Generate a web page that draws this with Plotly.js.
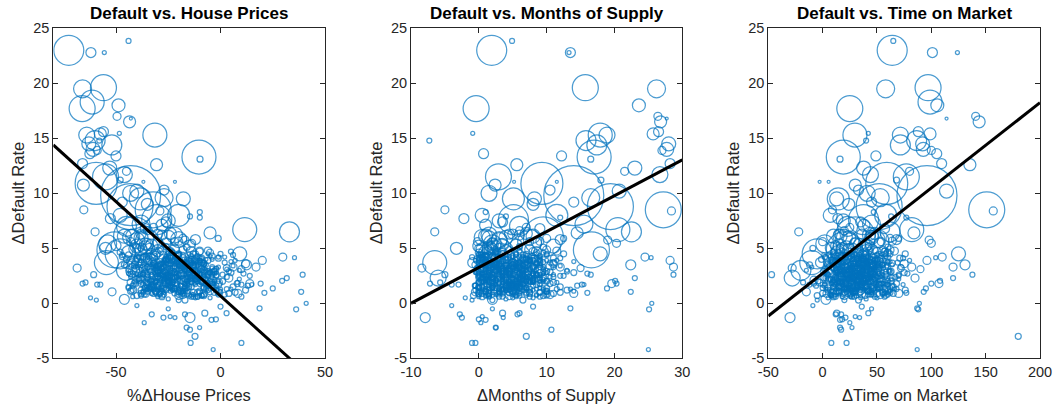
<!DOCTYPE html>
<html><head><meta charset="utf-8">
<script src="https://cdn.plot.ly/plotly-3.0.1.min.js"></script>
<style>html,body{margin:0;padding:0;background:#fff}#chart{width:1057px;height:408px}</style>
</head><body><div id="chart"></div>
<script>
// ---- prominent high-default observations (y >= ~10) ----
const highRate = [23.0,23.85,22.8,22.8,19.5,19.6,18.3,17.7,18.0,17.0,
  16.5,16.8,15.3,15.45,14.8,13.3,13.1,15.3,14.8,15.4,
  14.0,14.4,12.6,12.7,10.9,9.8,11.5,11.05,11.05,10.75,
  12.3,13.4,13.6,11.7,10.2,14.5,15.6,13.9];
const highSize = [30,5,10,4,18,26,24,26,13,8,
  12,3,24,4,5,34,6,16,20,12,
  14,20,12,10,42,60,26,3,3,12,
  14,10,10,16,14,14,10,8];
const highHP = [-72.6,-44,-62,-55.6,-66,-56,-61.4,-66.2,-48.8,-49.5,
  -43.5,-42.9,-31.4,-48.4,-58,-10.3,-9.8,-64,-60,-57.5,
  -61,-52,-30.6,-66,-59.5,-43,-55,-36.9,-21.8,-65.6,
  -53,-50,-62.5,-46,-40,-63,-56,-59];
const highMS = [1.9,4.9,13.5,13.3,26.2,15.7,33,-0.4,23.6,26.4,
  26.8,27.7,17.9,-0.9,-7.3,17.0,16.5,18.9,15.8,25.7,
  27.7,17.4,5.6,28.2,9.3,14.0,2.9,5.2,11.5,2.4,
  23,12.2,0.7,26.7,20.7,28.0,26.5,27];
const highTOM = [64,65,101,124,58,97,98.8,25,105.5,140.8,
  144,114,29.7,42,40,19,16,71.5,86.5,98.8,
  92.6,71.5,135.5,109.5,59,96,77,-2.8,5.5,30,
  37.7,49,105,44,114,92,88,100];

// ---- mid-range observations ----
const midRate = [9.5,10.0,9.5,8.8,8.5,8.4,7.6,7.7,6.05,6.7,
  6.5,4.5,4.2,4.15,8.5,6.5,3.2,4.85,5.0,8.3,
  7.8,7.9,5.75,5.45,5.9,6.4,7.5,9.0,8.0,7.0,
  6.8,9.2,10.3,7.2,5.4,5.2,8.0,9.6,6.2,5.6,
  11.2,12.0];
const midSize = [22,16,14,46,36,8,30,10,40,24,
  20,14,8,4,8,8,8,36,12,5,
  5,5,8,8,6,12,14,12,14,20,
  10,10,10,18,18,14,22,18,16,24,
  6,8];
const midHP = [-38.4,-43,-17.8,-43.3,-32.2,-29,-30.5,-52.7,-41.6,11.6,
  33,9.2,29.8,35.4,-65.4,-60,-68.6,-50.5,-55,-9.9,
  -9.9,-14.6,-17,-13.8,-1.1,-5,-25,-35,-48,-45,
  -36,-47,-27,-38,-54,-40,-20,-27,-22,-35,
  -48,-45];
const midMS = [5.1,1.5,8.2,19.4,27.2,28.4,5.1,-2.2,9.5,20.5,
  22.5,17.9,24.5,25.4,-5,-6.5,-8.4,16.6,-3.3,1,
  12,4,19,20.3,12.5,14.5,3.0,8,0.5,6,
  9,14,10.5,15.5,2.0,11,11.5,16.5,1.5,7.5,
  18,21.5];
const midTOM = [14.4,41,12.9,52,151,157,37.6,14,30,82,
  62,125,110,104,9,-22,-28,20,8,47,
  77,63,98,100,70,84,19,24,7,23,
  57,45,33,45,2,16,58,53,44,50,
  68,80];

// ---- negative-change observations ----
const lowRate = [-1.76,-1.0,-1.3,-1.2,-1.3,-1.0,-1.3,-2.2,-2.4,-3.0,
  -3.6,-4.2,-3.6,-0.9,-1.5,-1.45,-0.9,-0.45,-0.55,0.0,
  -0.3,-0.5,-2.2,-0.2];
const lowSize = [4,5,5,4,4,5,10,5,5,6,
  5,4,5,6,5,5,5,5,5,4,
  5,4,4,4];
const lowHP = [-36.5,-32.9,-27.3,-24.1,-21.8,-17,-14.6,-16.2,-14.6,-12.2,
  -14.3,-3.5,10,-7.5,-4.3,-2.2,2.9,18.7,36.2,41,
  0,-25,-10,-40];
const lowMS = [0.3,-2.8,-2.5,0.5,3.6,5.7,-7.9,2.5,10.7,7,
  -1,25,-0.5,3.5,1.0,0.0,6,13.5,25.1,25.5,
  8,2,2.5,-4];
const lowTOM = [25,12,21,30,34,17,-30,16,17,180,
  8,87,22,13,16,18,42,87,88,89,
  36,45,27,-9];

// ---- outer-edge observations (right / left of the main cloud) ----
const edgeRate = [1.05,2.6,2.3,2.05,1.35,1.8,0.95,1.8,3.5,3.3,
  0.9,3.9,1.7,2.8,
  1.8,1.9,2.6,1.7,1.7,0.5,0.3,1.05,0.36,3.7,
  4.5,3.0,2.3];
const edgeSize = [5,5,5,5,5,5,5,8,10,8,
  8,8,5,6,
  5,5,6,5,5,4,4,8,10,24,
  30,20,16];
const edgeHP = [38.6,39.3,31.7,29.5,25,19.2,21,14,12.4,17,
  8.4,20,10,5,
  -66,-64.6,-60.7,-59,-57.5,-62.2,-59.4,-51.9,-46,-54.6,
  -48,-45,-7];
const edgeMS = [22.4,28.7,23,20.1,18.9,20.3,16,19.6,22.4,28.7,
  14,28.2,15.2,14,
  -7.2,-5.7,-5,-4,-3,-2,-1,-0.5,2,-6.5,
  3,1,-6];
const edgeTOM = [93,137.8,120,108,95,100,77,107,131,120,
  70,96,60,75,
  -8,-18,-47,-12,0,5,-5,-15,3,-10,
  -5,-20,-28];

// ---- rim of the main cloud ----
const rimRate = [0.8,1.5,2.2,2.9,3.6,1.1,1.8,2.5,3.2,3.9,
  0.6,1.3,2.0,2.7,3.4,4.1,1.6,2.3,3.0,3.7,
  1.0,1.7,2.4,3.1,3.8,4.5,1.2,1.9,2.6,3.3,
  5.5,6.0,6.6,7.1,5.8,6.3,6.9,5.2,6.1,7.4,
  0.7,1.4,2.1,2.8,3.5,4.2,1.9,2.6,3.3,4.0,
  0.9,1.6,2.3,3.0,3.7,4.4,5.0,5.6,2.0,2.8];
const rimSize = [5,6,4,5,8,4,6,5,7,4,
  5,4,6,5,4,6,5,8,4,5,
  6,4,5,7,4,5,6,4,5,8,
  10,14,8,12,16,10,8,12,14,10,
  6,5,8,4,6,5,7,5,4,6,
  8,5,6,4,10,5,6,8,5,4];
const rimHP = [2,6,9,4,12,0,8,14,3,7,
  10,5,1,11,6,-1,13,4,9,2,
  7,15,3,10,5,0,12,8,1,6,
  -30,-25,-35,-28,-20,-38,-32,-15,-42,-26,
  -40,-44,-38,-42,-46,-39,-43,-37,-41,-45,
  -36,-42,-39,-44,-40,-47,-38,-43,-41,-37];
const rimMS = [10,12,9.5,13,11,14,10.5,12.5,15,11.5,
  9,13.5,10,16,12,11,14.5,9.5,13,10.5,
  12,15.5,11,9,14,10,13,11.5,16.5,12,
  2,4,6,1,3,5,7,0,8,3.5,
  -0.8,0,0.5,-0.5,1,-1,0.2,0.8,-0.3,0.4,
  1.2,-0.6,0.6,0,-0.9,0.3,1.5,-0.2,0.7,-0.4];
const rimTOM = [60,65,70,58,75,62,68,55,72,80,
  57,66,63,78,59,71,64,85,61,69,
  56,74,67,90,62,58,76,60,70,82,
  30,45,20,38,50,15,25,42,10,35,
  -5,0,-8,3,-12,2,-3,5,-10,-1,
  4,-6,1,-15,-2,6,-9,0,-4,2];

// ---- central cloud ----
const coreRate = [
  0.3,0.5,0.6,0.8,0.9,1.0,1.1,0.4,0.7,1.2,0.5,0.9,1.1,0.6,0.8,1.0,0.3,0.7,1.2,0.9,0.6,1.1,
  1.3,1.5,1.7,1.9,1.4,1.6,1.8,2.0,1.25,1.45,1.65,1.85,1.35,1.55,1.75,1.95,1.3,1.6,1.9,1.5,1.7,1.4,1.8,2.0,
  2.1,2.3,2.5,2.7,2.2,2.4,2.6,2.8,2.05,2.35,2.55,2.75,2.15,2.45,2.65,2.25,2.5,2.7,2.1,2.4,2.6,2.3,2.2,2.55,2.45,2.75,
  2.9,3.1,3.3,3.5,3.0,3.2,3.4,3.6,2.85,3.15,3.35,3.55,2.95,3.25,3.45,3.05,3.3,3.5,2.9,3.2,3.4,3.1,3.0,3.35,3.25,3.55,
  3.7,3.9,4.1,4.3,3.8,4.0,4.2,4.4,3.65,3.95,4.15,4.35,3.75,4.05,4.25,3.85,4.1,4.3,3.7,4.0,4.2,3.9,4.4,3.8,
  4.5,4.7,4.9,5.1,4.6,4.8,5.0,4.45,4.75,4.95,5.15,4.55,4.85,5.05,4.65,4.9,4.5,4.8,5.0,4.7,
  5.3,5.5,5.7,5.9,6.1,6.3,5.4,5.6,5.8,6.0,6.2,5.35,5.65,5.95,5.25,6.35,
  1.2,1.6,2.0,2.4,2.8,3.2,3.6,4.0,1.4,1.8,2.2,2.6,3.0,3.4,3.8,1.3,1.7,2.1,2.5,2.9,3.3,3.7,1.5,1.9,2.3,2.7,3.1,3.5,2.0,2.6];
const coreSize = [
  5,4,6,5,4,6,5,4,5,6,4,5,6,4,5,4,6,5,4,6,5,4,
  5,6,5,4,6,5,8,5,4,6,5,4,6,5,4,8,5,6,4,5,6,5,4,6,
  6,5,8,5,6,5,6,10,5,6,5,8,5,6,5,6,5,4,6,5,8,5,6,5,12,5,
  6,5,8,6,10,5,6,5,6,8,5,6,12,5,6,8,5,6,5,6,8,5,14,6,5,8,
  8,6,10,5,12,6,8,5,6,10,6,8,5,12,6,8,5,10,6,8,5,12,6,8,
  10,8,12,6,14,8,10,6,8,12,6,10,8,14,6,10,6,12,8,10,
  12,10,16,8,14,10,12,8,10,16,10,12,8,14,10,12,
  4,5,4,5,4,5,4,5,4,5,4,5,4,5,4,5,4,5,4,5,4,5,4,5,4,5,4,5,4,5];
const coreHP = [
  -20,-12,-28,-8,-33,-3,-18,-25,-15,-38,-5,-22,-10,-30,-1,-27,-17,-9,-35,4,-13,-24,
  -22,-14,-30,-6,-36,-19,-26,-11,-2,-33,-16,-24,-8,-28,-41,-13,3,-21,-31,-17,-4,-27,-35,-9,
  -25,-18,-32,-10,-38,-22,-28,-14,-5,-35,-20,-27,-12,-30,-43,-16,-2,-24,-33,-8,-19,-29,-40,-11,-23,-15,
  -27,-20,-34,-12,-40,-24,-30,-16,-6,-37,-22,-29,-14,-32,-45,-18,-4,-26,-36,-9,-21,-31,-42,-13,-25,-17,
  -29,-22,-36,-14,-42,-26,-32,-18,-8,-39,-24,-31,-16,-34,-47,-20,-10,-28,-38,-12,-23,-33,-44,-15,
  -31,-24,-38,-16,-44,-28,-34,-20,-10,-41,-26,-33,-18,-36,-48,-22,-12,-30,-40,-14,
  -33,-26,-40,-18,-46,-30,-36,-22,-12,-43,-28,-35,-20,-38,-50,-24,
  -23,-19,-25,-21,-27,-23,-29,-25,-15,-17,-20,-18,-22,-20,-24,-26,-12,-28,-14,-30,-16,-32,-7,-9,-11,-13,-15,-17,-31,-35];
const coreMS = [
  2,5,0.5,7,3,9,1,4,6,1.5,8,3.5,10,0,5.5,2.5,6.5,1,4.5,11,3,7.5,
  3,6,1,8,0,4.5,2,7,9.5,1.5,5,3.5,10,0.5,2.5,6,11.5,4,1,5.5,8.5,2,0,6.5,
  4,6.5,2,8,0.5,3.5,1.5,7,10,0,5,2.5,9,1,3,6,12,4.5,0.5,7.5,5.5,3,1,8.5,4,6,
  4.5,7,2,8.5,0,3.5,1.5,6,10.5,0.5,5.5,3,9,1,2.5,6.5,11,4,0,7.5,5,2.5,1,8,4,6,
  5,7.5,2.5,9,0.5,4,1.5,6.5,11,0,5.5,3,9.5,1,2,7,12,4.5,0.5,8,6,2.5,1,8.5,
  5,8,3,9.5,1,4.5,2,7,11.5,0.5,6,3.5,10,1.5,2.5,7.5,12.5,4,0,8.5,
  5.5,8.5,3,10,1,4.5,2,7.5,12,0.5,6,3.5,9,1.5,2.5,7,
  3,4,5,6,4,5,6,7,2,3,3.5,4.5,5.5,6.5,7.5,1,2,2.5,3.5,4,5,6,5,6,7,8,8.5,9,1.5,2];
const coreTOM = [
  20,35,10,45,28,55,15,40,25,5,50,30,60,18,42,22,33,8,38,65,27,48,
  25,40,12,50,5,32,20,45,58,15,35,28,62,10,2,38,68,30,14,36,52,22,8,44,
  30,42,18,52,8,28,22,46,60,12,35,26,55,16,4,40,70,33,10,50,38,24,6,48,31,44,
  32,45,20,55,10,30,24,48,62,14,38,28,58,18,6,42,72,36,12,52,40,26,8,50,34,46,
  35,48,22,58,12,32,26,50,64,16,40,30,60,20,8,44,74,38,14,54,42,28,10,52,
  38,50,24,60,14,34,28,52,66,18,42,32,62,22,10,46,76,40,16,56,
  40,52,26,62,16,36,30,54,68,20,44,34,64,24,12,48,
  28,32,36,30,34,38,42,36,24,26,30,34,38,40,44,20,22,25,27,29,31,33,40,42,44,46,48,50,18,22];

// ---- densest part of the cloud, first layer (small markers) ----
const denseRate = [
  1.0,2.6,3.8,1.6,3.0,4.3,2.0,1.3,3.4,2.3,0.8,4.0,2.8,1.8,3.6,1.1,2.5,4.5,2.1,3.2,
  1.2,2.9,3.5,1.9,3.3,4.1,2.2,1.5,3.7,2.7,0.9,3.9,2.4,1.7,3.1,1.4,2.6,4.4,2.0,3.0,
  1.5,2.3,3.9,1.1,2.8,4.2,2.5,1.8,3.2,2.0,1.0,3.6,2.9,1.4,3.4,1.7,2.2,4.0,2.6,3.5,
  1.8,2.7,3.3,1.3,3.1,3.8,2.4,1.0,3.6,2.1,1.2,4.2,2.6,1.9,3.0,1.5,2.8,3.7,2.3,3.9,
  2.0,2.5,3.6,1.4,2.9,4.4,2.1,1.6,3.3,2.4,0.7,3.8,2.7,1.2,3.5,1.9,2.3,4.1,2.8,3.1,
  1.1,2.8,3.7,1.7,3.2,4.0,2.3,1.4,3.5,2.6,1.3,3.9,2.5,2.0,3.3,1.6,2.4,4.3,2.2,3.4,
  1.4,2.2,3.4,1.9,2.7,4.1,2.6,1.1,3.8,2.2,0.9,3.7,3.0,1.5,3.2,1.8,2.1,3.9,2.7,3.6,
  1.7,2.4,3.1,1.2,3.0,3.6,2.0,1.7,3.9,2.5,1.1,4.3,2.3,1.3,2.9,2.1,2.7,3.5,1.9,3.3,
  0.9,2.6,3.5,1.5,2.8,4.2,2.2,1.9,3.1,2.8,1.4,3.6,2.1,1.6,3.7,1.3,2.9,4.0,2.4,3.0,
  1.6,3.0,3.2,1.0,3.4,3.9,2.5,1.2,3.6,2.0,1.5,4.1,2.6,1.8,3.3,1.1,2.2,3.8,2.9,3.5];
const denseSize = [
  5,4,6,5,4,6,5,4,7,5,4,6,5,4,5,6,4,5,6,4,
  4,6,5,4,5,7,4,6,5,4,6,5,4,7,5,4,6,5,4,5,
  6,5,4,6,5,4,7,5,4,6,5,4,6,5,4,5,6,4,5,7,
  5,4,7,5,6,4,5,6,4,5,7,4,5,6,4,6,5,4,6,5,
  4,5,6,4,7,5,4,5,6,4,5,6,4,5,7,4,5,6,4,6,
  6,4,5,6,4,5,7,4,5,6,4,5,6,4,5,6,4,7,5,4,
  5,6,4,5,6,4,5,7,4,5,6,4,5,6,4,5,7,4,6,5,
  4,5,7,4,5,6,4,5,6,7,4,5,6,4,5,4,6,5,7,4,
  7,4,5,6,4,5,6,4,5,4,6,7,4,5,6,4,5,6,4,5,
  5,6,4,5,7,4,6,5,4,6,5,4,7,5,4,6,5,4,5,6];
const denseHP = [
  -20,-28,-12,-33,-6,-24,-16,-30,-9,-22,-36,-14,-26,-3,-19,-31,-11,-25,-7,-17,
  -23,-15,-29,-8,-35,-18,-27,-4,-21,-13,-32,-10,-24,-1,-17,-34,-6,-20,-28,-12,
  -18,-26,-10,-31,-5,-22,-14,-29,-2,-25,-37,-16,-23,-8,-20,-33,-12,-27,-4,-19,
  -21,-13,-30,-7,-34,-17,-25,-11,-28,-3,-19,-35,-9,-23,-15,-32,-5,-26,-14,-22,
  -16,-24,-8,-29,-12,-20,-33,-6,-27,-18,-38,-10,-22,-2,-25,-14,-30,-9,-21,-17,
  -19,-27,-11,-32,-4,-23,-15,-28,-7,-21,-35,-13,-25,-1,-18,-30,-10,-24,-6,-16,
  -22,-14,-31,-9,-36,-16,-26,-5,-20,-12,-29,-8,-24,-3,-18,-33,-11,-27,-15,-20,
  -17,-25,-9,-30,-13,-21,-34,-7,-26,-19,-37,-11,-23,0,-24,-15,-31,-8,-22,-18,
  -20,-29,-13,-34,-5,-25,-17,-31,-10,-23,-35,-15,-27,-2,-21,-32,-12,-26,-6,-16,
  -24,-16,-28,-10,-33,-19,-26,-6,-22,-14,-30,-9,-25,-4,-18,-35,-7,-21,-29,-13];
const denseMS = [
  3,6,1,8,4,2,7,0.5,5,9,2.5,6.5,1.5,4.5,8.5,3.5,0,5.5,7.5,2,
  4,1,6.5,2.5,9,3,5.5,0,7,4.5,1.5,8,3.5,6,2,9.5,5,0.5,7.5,3,
  2,5,7.5,1,4,8.5,3,6,0,5.5,9,2.5,4.5,7,1.5,3.5,6.5,0.5,8,5,
  5,2,8,3.5,0.5,6,1,4.5,7,2.5,5.5,9,3,0,6.5,4,1.5,8.5,2,7.5,
  1,4.5,3,7,5.5,0,8,2,6,3.5,1.5,5,9.5,4,2.5,7.5,0.5,6.5,3,5,
  6,3.5,0.5,5,2,7.5,4,9,1.5,6.5,3,0,5.5,8,2.5,4.5,7,1,3.5,6,
  2.5,7,4,0,6,3,8.5,5,1,4,7.5,2,6.5,3.5,0.5,5.5,2,9,4.5,1.5,
  4.5,0.5,5.5,8,1.5,4,2.5,6.5,3.5,7,0,5,2,8.5,4,1,6,3,5.5,7,
  3,8.5,2,5,6.5,1,4.5,3,7.5,0.5,5.5,2.5,6,4,9,1.5,3.5,7,0,4.5,
  5.5,2.5,6,1,4,7,0,3.5,5,8,2,4.5,1.5,6.5,3,5,8,2,4,0.5];
const denseTOM = [
  30,18,42,25,50,12,36,22,46,28,8,38,20,55,33,15,44,27,40,24,
  26,45,14,38,22,52,30,10,40,34,19,48,28,16,43,32,58,21,36,12,
  35,20,47,13,32,41,24,54,18,37,29,9,44,26,50,15,39,31,22,46,
  22,40,28,51,16,34,45,20,30,11,42,25,37,57,19,33,14,48,27,38,
  41,15,33,24,46,29,10,39,21,53,31,17,43,35,23,49,13,36,27,44,
  28,48,19,36,25,14,42,31,55,23,38,12,34,20,45,29,50,17,40,33,
  37,23,52,16,30,44,21,35,11,47,26,40,18,32,56,24,43,15,34,29,
  19,36,27,45,13,39,31,49,22,33,8,42,28,51,17,38,25,46,20,35,
  44,26,14,40,34,21,53,18,37,29,47,15,32,24,41,12,36,50,23,30,
  31,17,39,28,58,20,34,43,16,26,45,22,35,13,48,30,19,41,27,37];

// ---- densest part of the cloud, second layer ----
const packRate = [
  0.6,1.9,3.1,4.6,2.4,1.2,3.7,2.9,0.8,4.2,1.6,3.3,2.2,4.8,1.0,2.7,3.9,1.4,3.0,2.0,
  2.5,0.7,3.5,1.8,4.5,2.9,1.1,3.8,2.3,0.9,4.0,1.5,3.2,2.6,4.7,1.3,3.6,2.1,0.6,3.4,
  1.7,3.0,0.9,4.4,2.0,3.6,1.2,2.8,4.1,1.5,3.3,0.8,2.5,3.9,1.9,4.6,2.2,1.0,3.1,2.7,
  3.8,1.4,2.6,0.7,3.4,2.1,4.3,1.7,2.9,3.7,1.1,2.4,4.8,1.9,3.2,0.9,2.7,4.0,1.6,3.5,
  2.2,4.1,1.3,3.0,0.8,2.6,3.9,1.8,4.5,2.3,1.0,3.5,2.0,4.2,1.4,3.1,0.7,2.8,3.7,1.9,
  1.0,2.8,4.0,1.6,3.3,2.1,0.9,3.8,2.5,4.4,1.3,2.9,3.6,0.6,2.3,4.7,1.8,3.2,2.6,1.2,
  3.1,1.7,2.4,4.3,0.8,3.6,2.0,1.4,4.1,2.8,3.4,1.1,2.2,3.9,1.6,2.7,4.5,0.9,3.0,2.4,
  2.0,3.5,1.2,2.7,4.6,1.8,3.2,0.7,2.5,3.8,1.5,4.2,2.9,1.0,3.6,2.2,1.4,3.9,2.6,4.4,
  4.0,2.3,0.9,3.4,1.7,2.9,4.5,1.3,3.1,2.1,0.8,3.7,1.9,2.6,4.2,1.1,3.3,2.4,0.6,2.8,
  1.5,3.9,2.6,1.0,3.2,4.8,2.0,3.5,1.4,2.7,4.1,1.8,3.0,0.9,2.4,3.6,1.2,4.3,2.1,3.3];
const packSize = [
  5,6,4,7,5,4,6,5,8,4,5,6,4,5,7,4,6,5,4,6,
  6,4,5,7,4,6,5,4,6,8,4,5,6,4,5,7,4,6,5,4,
  4,7,5,4,6,5,8,4,5,6,4,5,7,4,6,5,4,6,5,7,
  7,5,4,6,5,4,6,7,4,5,6,4,5,8,4,6,5,4,7,5,
  5,4,6,5,7,4,5,6,4,6,5,7,4,5,6,4,8,5,4,6,
  4,6,5,8,4,5,6,4,7,5,4,6,5,4,6,7,4,5,6,4,
  6,5,7,4,5,6,4,5,6,4,8,5,4,6,5,4,6,7,4,5,
  5,7,4,5,6,4,7,5,4,6,5,4,6,5,8,4,5,6,4,5,
  4,5,6,7,4,5,6,4,5,8,4,6,5,4,6,5,7,4,5,6,
  6,4,5,6,4,7,5,4,6,5,4,6,7,5,4,6,5,4,8,5];
const packHP = [
  -14,-27,-38,-5,-21,-32,-9,-43,-18,2,-25,-35,-12,-29,-1,-40,-16,-23,-7,-31,
  -33,-10,-24,-41,-15,-3,-28,-19,-37,-8,-22,-44,-13,-30,5,-26,-17,-39,-11,-20,
  -6,-30,-18,-36,-12,-25,-42,-2,-21,-33,-9,-27,-15,-38,-4,-23,-34,-13,-28,-19,
  -26,-16,-40,-8,-31,-20,-4,-35,-14,-27,-43,-11,-24,-1,-29,-18,-37,-7,-22,-32,
  -11,-34,-22,-3,-28,-39,-15,-25,-6,-31,-19,-41,-9,-26,-36,3,-20,-30,-13,-24,
  -29,-8,-35,-18,-1,-24,-38,-12,-30,-21,-5,-33,-16,-42,-27,-10,-23,-36,-2,-17,
  -19,-37,-7,-26,-14,-32,-3,-22,-40,-11,-28,-17,-35,-6,-24,-44,-13,-30,-9,-21,
  -36,-13,-28,-4,-23,-17,-41,-9,-27,-34,-15,-1,-31,-20,-38,-7,-25,-12,-33,6,
  -4,-25,-16,-39,-10,-30,-20,-35,-2,-26,-13,-32,-23,-8,-37,-18,-29,-43,-11,-22,
  -24,-40,-10,-31,-19,-6,-27,-14,-34,-3,-21,-38,-8,-29,-15,-25,-42,-5,-18,-28];
const packMS = [
  7.5,2,9.5,0,4,6.5,1,3.5,10.5,5,-0.5,8,2.5,6,4.5,0.5,9,3,7,1.5,
  1.5,8.5,4,6,0,10,3,7,2,5.5,9,0.5,4.5,11,2.5,6.5,1,8,3.5,5,
  9,3.5,6,1,7.5,2.5,5,10,0,4,8,2,6.5,-0.5,4.5,9.5,1.5,7,3,5.5,
  0.5,6,2.5,9.5,4,7,1,5.5,3,8.5,0,10.5,2,6.5,4.5,1.5,8,3.5,5,7.5,
  5,0,7.5,3,10,1.5,6,4,8.5,2,5.5,-0.5,9,3.5,7,1,4.5,6.5,2.5,11,
  3,9,1,6.5,4,8,0.5,5,2,10,3.5,7,0,5.5,9.5,2.5,6,1.5,8.5,4.5,
  6.5,1.5,8,4.5,0,5.5,9.5,2,7,3,10.5,1,6,4,-0.5,8.5,2.5,5,3.5,7.5,
  2,7,4.5,0.5,8.5,3,6,1.5,9,5,0,7.5,3.5,10,2.5,6.5,4,1,8,5.5,
  8,4,0,6,2.5,9.5,3.5,7,1,5,8.5,2,4.5,6.5,0.5,10,3,5.5,1.5,7,
  4.5,10,2,7.5,5.5,1,8,3,6,0,4,9,1.5,5,7,2.5,-0.5,6.5,3.5,9.5];
const packTOM = [
  12,47,28,60,35,6,40,19,53,31,2,44,24,57,15,38,9,50,26,33,
  41,8,55,22,30,63,17,45,3,36,27,52,11,39,20,58,32,5,48,25,
  18,51,34,1,43,26,59,13,37,22,48,7,31,54,16,40,23,62,10,46,
  56,21,4,39,28,49,14,33,61,9,42,25,18,53,36,0,45,29,12,50,
  7,35,46,19,58,30,11,42,24,64,15,37,51,3,28,44,20,55,33,10,
  45,13,29,52,6,38,23,60,17,34,48,1,41,26,14,57,31,9,43,21,
  24,59,16,36,47,4,32,20,54,11,39,27,63,8,46,18,35,50,2,30,
  33,5,42,25,14,56,38,10,49,28,19,61,6,44,23,35,53,15,40,27,
  50,26,12,45,34,20,62,3,37,16,55,30,9,48,24,41,13,58,29,36,
  15,38,54,8,27,43,18,64,31,22,46,11,35,57,4,39,25,47,17,52];

// ---- least-squares fits [intercept, slope] and x-spans ----
const fitHP = [0.666, -0.1717];
const fitMS = [3.258, 0.3258];
const fitTOM = [2.728, 0.07756];
const spanHP = [-80, 50];
const spanMS = [-10, 30];
const spanTOM = [-50, 200];

// ---- axis ticks / labels ----
const yTicks = [-5, 0, 5, 10, 15, 20, 25];
const hpTicks = [-50, 0, 50];
const msTicks = [-10, 0, 10, 20, 30];
const tomTicks = [-50, 0, 50, 100, 150, 200];
const titles = ['Default vs. House Prices', 'Default vs. Months of Supply', 'Default vs. Time on Market'];
const xLabels = ['%\u0394House Prices', '\u0394Months of Supply', '\u0394Time on Market'];
const yLabel = '\u0394Default Rate';

const rate = [].concat(highRate, midRate, lowRate, edgeRate, rimRate, coreRate, denseRate, packRate);
const size = [].concat(highSize, midSize, lowSize, edgeSize, rimSize, coreSize, denseSize, packSize);
const hp = [].concat(highHP, midHP, lowHP, edgeHP, rimHP, coreHP, denseHP, packHP);
const ms = [].concat(highMS, midMS, lowMS, edgeMS, rimMS, coreMS, denseMS, packMS);
const tom = [].concat(highTOM, midTOM, lowTOM, edgeTOM, rimTOM, coreTOM, denseTOM, packTOM);

const BLUE = '#0072BD', AX = '#262626';
const FONT = 'Liberation Sans, Arial, Helvetica, sans-serif';
const panels = [
  {x: hp, fit: fitHP, span: spanHP, ticks: hpTicks},
  {x: ms, fit: fitMS, span: spanMS, ticks: msTicks},
  {x: tom, fit: fitTOM, span: spanTOM, ticks: tomTicks}
];
const W = 1057, H = 408;
const xPix = [[53.3, 325], [411, 682.3], [768.3, 1040]];
const yPix = [28.3, 358.3];

const data = [], layout = {
  width: W, height: H, margin: {l: 0, r: 0, t: 0, b: 0},
  paper_bgcolor: '#fff', plot_bgcolor: '#fff', showlegend: false,
  annotations: []
};
panels.forEach((p, i) => {
  const sfx = i === 0 ? '' : String(i + 1);
  data.push({
    type: 'scatter', mode: 'markers', x: p.x, y: rate,
    xaxis: 'x' + sfx, yaxis: 'y' + sfx, hoverinfo: 'skip',
    marker: {symbol: 'circle-open', size: size, sizemode: 'diameter',
      color: BLUE, line: {width: 1.25, color: BLUE}}
  });
  data.push({
    type: 'scatter', mode: 'lines', x: p.span,
    y: p.span.map(v => p.fit[0] + p.fit[1] * v),
    xaxis: 'x' + sfx, yaxis: 'y' + sfx, hoverinfo: 'skip',
    line: {color: '#000', width: 3}
  });
  const common = {
    showline: true, linecolor: AX, linewidth: 1, mirror: 'ticks',
    ticks: 'inside', ticklen: 5, tickwidth: 1, tickcolor: AX,
    showgrid: false, zeroline: false, fixedrange: true,
    tickfont: {family: FONT, size: 14.5, color: AX}
  };
  layout['xaxis' + sfx] = Object.assign({}, common, {
    domain: [xPix[i][0] / W, xPix[i][1] / W], range: p.span,
    tickvals: p.ticks, ticktext: p.ticks.map(String),
    anchor: 'y' + sfx
  });
  layout['yaxis' + sfx] = Object.assign({}, common, {
    domain: [(H - yPix[1]) / H, (H - yPix[0]) / H], range: [-5, 25],
    tickvals: yTicks, ticktext: yTicks.map(String),
    anchor: 'x' + sfx
  });
  const cx = (xPix[i][0] + xPix[i][1]) / 2;
  layout.annotations.push({
    text: '<b>' + titles[i] + '</b>', xref: 'paper', yref: 'paper',
    x: cx / W, y: (H - 13.5) / H, xanchor: 'center', yanchor: 'middle',
    showarrow: false, font: {family: FONT, size: 17, color: '#000'}
  });
  layout.annotations.push({
    text: xLabels[i], xref: 'paper', yref: 'paper',
    x: cx / W, y: (H - 395) / H, xanchor: 'center', yanchor: 'middle',
    showarrow: false, font: {family: FONT, size: 16.5, color: AX}
  });
  layout.annotations.push({
    text: yLabel, xref: 'paper', yref: 'paper', textangle: -90,
    x: (xPix[i][0] - 35) / W, y: (H - (yPix[0] + yPix[1]) / 2) / H,
    xanchor: 'center', yanchor: 'middle',
    showarrow: false, font: {family: FONT, size: 16.5, color: AX}
  });
});
Plotly.newPlot('chart', data, layout, {staticPlot: true, displayModeBar: false});
</script></body></html>
